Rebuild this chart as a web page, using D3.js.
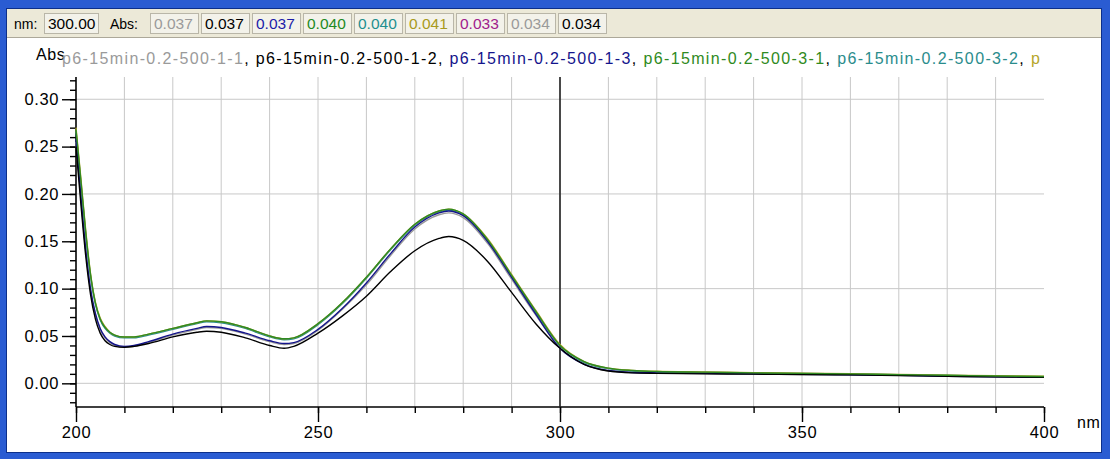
<!DOCTYPE html>
<html><head><meta charset="utf-8">
<script src="https://cdn.jsdelivr.net/npm/d3@7"></script>
<style>
html,body{margin:0;padding:0;background:#2a5cd2;}
svg{display:block;}
text{font-family:"Liberation Sans",Arial,sans-serif;}
</style></head>
<body>
<svg id="chart" width="1110" height="459"></svg>
<script>
// ---- data ----
const wavelengths = [200,201,202,203,204,205,206,207,208,210,212,215,220,225,227,230,235,240,243,245,250,255,260,265,270,275,277,280,285,290,295,300,305,310,315,320,330,340,350,360,370,380,390,400];
const s_1_1 = [0.255,0.195,0.140,0.098,0.072,0.057,0.048,0.043,0.040,0.038,0.039,0.043,0.051,0.057,0.059,0.058,0.052,0.044,0.041,0.042,0.056,0.078,0.104,0.135,0.163,0.178,0.180,0.175,0.148,0.110,0.072,0.037,0.020,0.013,0.0113,0.0108,0.0103,0.0099,0.0094,0.0089,0.0084,0.0074,0.0069,0.0064];
const s_1_2 = [0.250,0.190,0.135,0.094,0.068,0.053,0.045,0.041,0.039,0.038,0.039,0.042,0.049,0.054,0.055,0.054,0.048,0.040,0.037,0.039,0.053,0.071,0.092,0.118,0.140,0.153,0.155,0.151,0.129,0.096,0.063,0.037,0.020,0.013,0.011,0.0105,0.0100,0.0097,0.0093,0.0090,0.0083,0.0075,0.0068,0.0063];
const s_1_3 = [0.258,0.198,0.142,0.100,0.074,0.058,0.049,0.044,0.041,0.039,0.040,0.044,0.052,0.058,0.060,0.059,0.053,0.045,0.042,0.043,0.057,0.079,0.106,0.137,0.165,0.180,0.182,0.177,0.150,0.112,0.073,0.037,0.020,0.0135,0.0115,0.011,0.0105,0.0100,0.0095,0.0090,0.0085,0.0075,0.0070,0.0065];
const s_3_1 = [0.268,0.215,0.160,0.115,0.085,0.068,0.059,0.054,0.051,0.049,0.049,0.052,0.058,0.064,0.066,0.065,0.059,0.050,0.047,0.048,0.063,0.085,0.112,0.142,0.168,0.182,0.184,0.179,0.152,0.114,0.076,0.040,0.023,0.016,0.0135,0.0125,0.0118,0.0110,0.0105,0.0100,0.0092,0.0085,0.0078,0.0072];
const s_3_2 = [0.266,0.212,0.158,0.113,0.084,0.067,0.058,0.053,0.050,0.048,0.048,0.051,0.057,0.063,0.065,0.064,0.058,0.049,0.046,0.047,0.062,0.084,0.111,0.141,0.167,0.181,0.183,0.178,0.151,0.113,0.075,0.040,0.022,0.0155,0.013,0.0122,0.0115,0.0108,0.0103,0.0098,0.0090,0.0083,0.0076,0.0070];
const s_3_3 = [0.270,0.217,0.162,0.116,0.086,0.069,0.060,0.054,0.051,0.049,0.049,0.052,0.058,0.064,0.066,0.065,0.059,0.050,0.047,0.048,0.063,0.085,0.112,0.142,0.168,0.182,0.184,0.179,0.153,0.115,0.077,0.041,0.023,0.016,0.0137,0.0127,0.0120,0.0112,0.0107,0.0102,0.0094,0.0087,0.0080,0.0074];
const seriesNames = ["p6-15min-0.2-500-1-1","p6-15min-0.2-500-1-2","p6-15min-0.2-500-1-3","p6-15min-0.2-500-3-1","p6-15min-0.2-500-3-2","p"];
const seriesColors = ["#9a9a9a","#000000","#14148c","#2f8a22","#2a8c8c","#b5a62a"];
const seriesValues = [s_1_1, s_1_2, s_1_3, s_3_1, s_3_2, s_3_3];
const drawOrder = [0,4,5,2,1,3];
const cursorNm = 300;
const cursorLabel = "300.00";
const readoutValues = ["0.037","0.037","0.037","0.040","0.040","0.041","0.033","0.034","0.034"];
const readoutColors = ["#9a9a9a","#000000","#1c1ca8","#1f8a1f","#1f8f8f","#a89a20","#a0208c","#9a9a9a","#000000"];
const xTickLabels = [200,250,300,350,400];
const yTickLabels = ["0.00","0.05","0.10","0.15","0.20","0.25","0.30"];

// ---- layout ----
const svg = d3.select("#chart");
svg.append("rect").attr("x",0).attr("y",0).attr("width",1110).attr("height",459).attr("fill","#2a5cd2");
svg.append("rect").attr("x",6).attr("y",8).attr("width",1096).attr("height",445).attr("fill","#0c2f8a");
svg.append("rect").attr("x",7).attr("y",9).attr("width",1094).attr("height",28).attr("fill","#ece9d8");
svg.append("line").attr("x1",7).attr("x2",1101).attr("y1",37.5).attr("y2",37.5).attr("stroke","#aca899");
svg.append("rect").attr("x",7).attr("y",38).attr("width",1094).attr("height",414).attr("fill","#ffffff");

const tb = svg.append("g");
tb.append("text").attr("x",14).attr("y",29).attr("font-size",14).text("nm:");
function box(x,w,txt,col){
  tb.append("rect").attr("x",x+0.5).attr("y",13.5).attr("width",w).attr("height",20)
    .attr("fill","#f3f2ea").attr("stroke","#b9b6a8");
  tb.append("text").attr("x",x+4).attr("y",29).attr("font-size",15.5).attr("fill",col).text(txt);
}
box(44,54,cursorLabel,"#000");
tb.append("text").attr("x",110).attr("y",29).attr("font-size",14).text("Abs:");
readoutValues.forEach((v,i)=>box(150+i*51,48,v,readoutColors[i]));

// scales
const x = d3.scaleLinear().domain([200,400]).range([76,1044]);
const y = d3.scaleLinear().domain([-0.025,0.3235]).range([407,77]);

// grid
const g = svg.append("g");
g.selectAll(".vg").data(d3.range(210,400,10)).enter().append("line")
  .attr("x1",d=>x(d)).attr("x2",d=>x(d)).attr("y1",y.range()[1]).attr("y2",y.range()[0])
  .attr("stroke","#c8c8c8").attr("stroke-width",1);
g.selectAll(".hg").data([0,0.1,0.2,0.3]).enter().append("line")
  .attr("x1",x.range()[0]).attr("x2",x.range()[1]).attr("y1",d=>y(d)).attr("y2",d=>y(d))
  .attr("stroke","#c8c8c8").attr("stroke-width",1);

// axes
const xAxisMinor = d3.axisBottom(x).tickValues(d3.range(200,401,10)).tickSize(6).tickFormat("");
const xAxis = d3.axisBottom(x).tickValues(xTickLabels).tickSize(15).tickPadding(4).tickFormat(d3.format("d"));
const yAxisMinor = d3.axisLeft(y).tickValues(d3.range(-0.02,0.325,0.01)).tickSize(6).tickFormat("");
const yAxis = d3.axisLeft(y).tickValues(yTickLabels.map(Number)).tickSize(14).tickPadding(3).tickFormat(d3.format(".2f"));

function style(sel){
  sel.select(".domain").remove();
  sel.selectAll("line").attr("stroke","#000").attr("stroke-width",1.4);
  sel.selectAll("text").attr("font-family","Liberation Sans, Arial, sans-serif").attr("font-size",16.5).attr("letter-spacing","0.6px").attr("fill","#000");
}
svg.append("g").attr("transform",`translate(0,${y.range()[0]})`).call(xAxisMinor).call(style);
svg.append("g").attr("transform",`translate(0,${y.range()[0]})`).call(xAxis).call(style);
svg.append("g").attr("transform",`translate(${x.range()[0]},0)`).call(yAxisMinor).call(style);
svg.append("g").attr("transform",`translate(${x.range()[0]},0)`).call(yAxis).call(style);
svg.append("line").attr("x1",x.range()[0]).attr("x2",x.range()[1]).attr("y1",y.range()[0]).attr("y2",y.range()[0]).attr("stroke","#000").attr("stroke-width",1.6);
svg.append("line").attr("x1",x.range()[0]).attr("x2",x.range()[0]).attr("y1",y.range()[1]).attr("y2",y.range()[0]).attr("stroke","#000").attr("stroke-width",1.6);

// cursor line
svg.append("line").attr("x1",x(cursorNm)).attr("x2",x(cursorNm)).attr("y1",y.range()[1]).attr("y2",y.range()[0])
  .attr("stroke","#222").attr("stroke-width",1.6);

// series
const line = d3.line().x((d,i)=>x(wavelengths[i])).y(d=>y(d)).curve(d3.curveMonotoneX);
drawOrder.forEach(k=>{
  svg.append("path").datum(seriesValues[k]).attr("d",line).attr("fill","none")
    .attr("stroke",seriesColors[k]).attr("stroke-width",1.4);
});

// axis titles
svg.append("text").attr("x",36).attr("y",60).attr("font-size",16).attr("letter-spacing","0.6px").text("Abs");
svg.append("text").attr("x",1077).attr("y",428).attr("font-size",16).attr("letter-spacing","0.6px").text("nm");

// legend line
const lg = svg.append("text").attr("x",62).attr("y",64).attr("font-size",16).attr("letter-spacing","1.37px");
seriesNames.forEach((n,i)=>{
  lg.append("tspan").attr("fill",seriesColors[i]).text(n);
  if(i<seriesNames.length-1) lg.append("tspan").attr("fill","#000").text(", ");
});
</script>
</body></html>
